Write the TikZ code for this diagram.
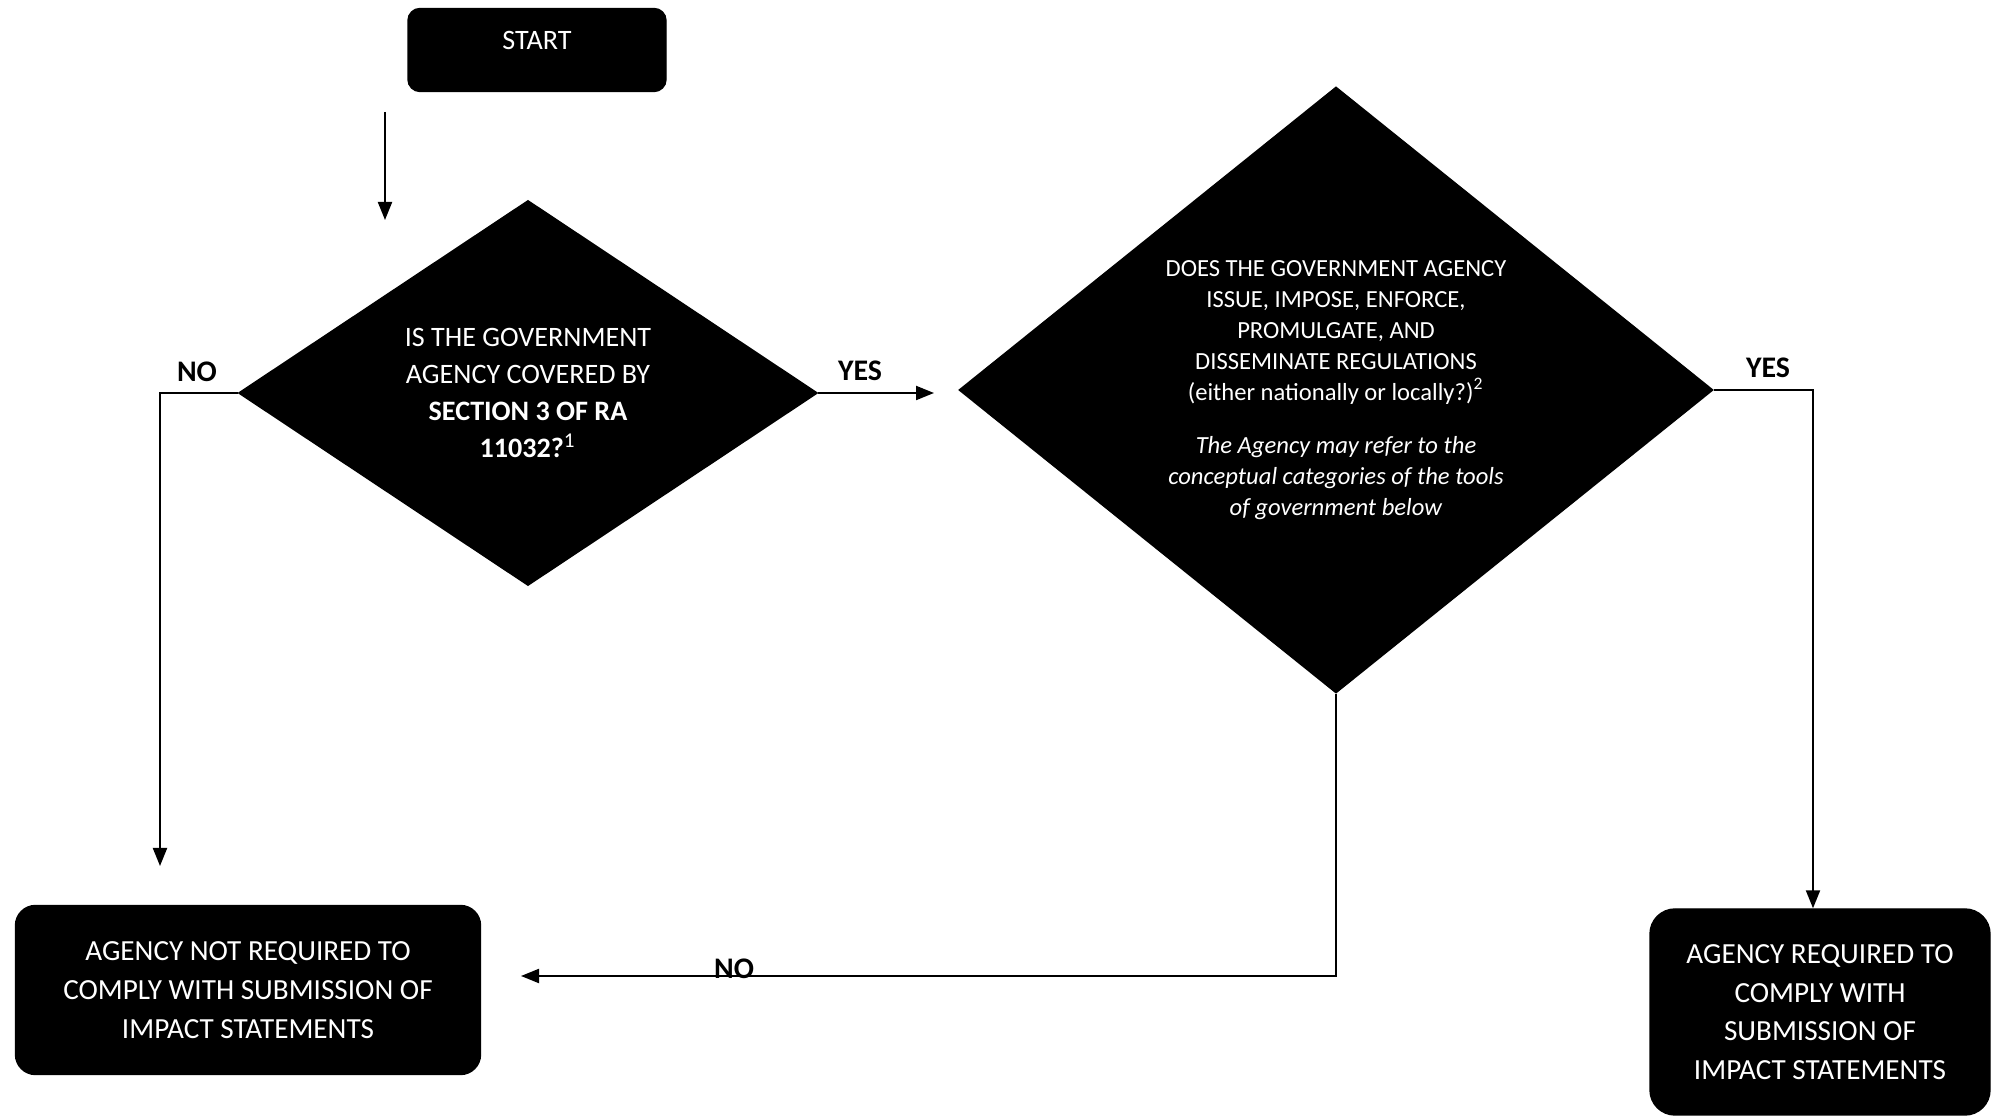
\documentclass[tikz,border=0pt]{standalone}
\usepackage{fontspec}
\setmainfont{Carlito}
\usetikzlibrary{arrows.meta, positioning, shapes.geometric, calc}

\tikzset{
  decision/.style={diamond, fill=black, draw=black, text=white, align=center, inner sep=0pt},
  endbox/.style={rectangle, rounded corners=2mm, fill=black, draw=black, text=white, align=center, inner sep=0pt},
  flowarrow/.style={draw, line width=0.6pt, -{Triangle[length=1.8mm, width=1.4mm]}},
  answer/.style={font=\fontsize{8.5}{10}\selectfont\bfseries},
}

\begin{document}
\begin{tikzpicture}[x=0.1mm, y=-0.1mm]
    \useasboundingbox (0,0) rectangle (1992,1117);

    % Start
    \node[endbox, rounded corners=1.2mm, minimum width=25.8mm, minimum height=8.3mm, text height=2mm, text depth=2mm, font=\fontsize{8}{10}\selectfont] (start) at (537,50) {START};
    \coordinate (inTop) at (385,112);
    \coordinate (inEnd) at (385,220);
    \draw[flowarrow] (inTop) -- (inEnd);

    % Decisions
    \node[decision, minimum width=57.9mm, minimum height=38.5mm, shape aspect=1.5, font=\fontsize{8}{10.5}\selectfont] (covered) at (528,393)
        {IS THE GOVERNMENT\\AGENCY COVERED BY\\\textbf{SECTION 3 OF RA}\\\textbf{11032?}\textsuperscript{1}};
    \node[decision, minimum width=75.4mm, minimum height=60.6mm, shape aspect=1.25, font=\fontsize{7}{8.8}\selectfont] (regulates) at (1336,390)
        {DOES THE GOVERNMENT AGENCY\\ISSUE, IMPOSE, ENFORCE,\\PROMULGATE, AND\\DISSEMINATE REGULATIONS\\(either nationally or locally?)\textsuperscript{2}\\[2.2mm]
         \textit{The Agency may refer to the}\\\textit{conceptual categories of the tools}\\\textit{of government below}};

    % Outcomes
    \node[endbox, minimum width=46.5mm, minimum height=16.9mm, font=\fontsize{8.3}{11.1}\selectfont] (notreq) at (248,990)
        {AGENCY NOT REQUIRED TO\\COMPLY WITH SUBMISSION OF\\IMPACT STATEMENTS};
    \node[endbox, rounded corners=2.5mm, minimum width=34mm, minimum height=20.6mm, font=\fontsize{8.3}{11}\selectfont] (req) at (1820,1012)
        {AGENCY REQUIRED TO\\COMPLY WITH\\SUBMISSION OF\\IMPACT STATEMENTS};

    % Connectors
    \coordinate (noDown) at (160,866);
    \coordinate (yesEnd) at (934,393);
    \coordinate (noEnd) at (521,976);
    \draw[flowarrow] (covered.west) -| (noDown);
    \draw[flowarrow] (covered.east) -- (yesEnd);
    \draw[flowarrow] (regulates.east) -| ([xshift=-0.7mm]req.north);
    \draw[flowarrow] (regulates.south) |- (noEnd);

    % Labels
    \node[answer] (noA) at (197,372) {NO};
    \node[answer] (yesA) at (860,371) {YES};
    \node[answer] (yesB) at (1768,368) {YES};
    \node[answer] (noB) at (734,969) {NO};
\end{tikzpicture}
\end{document}
